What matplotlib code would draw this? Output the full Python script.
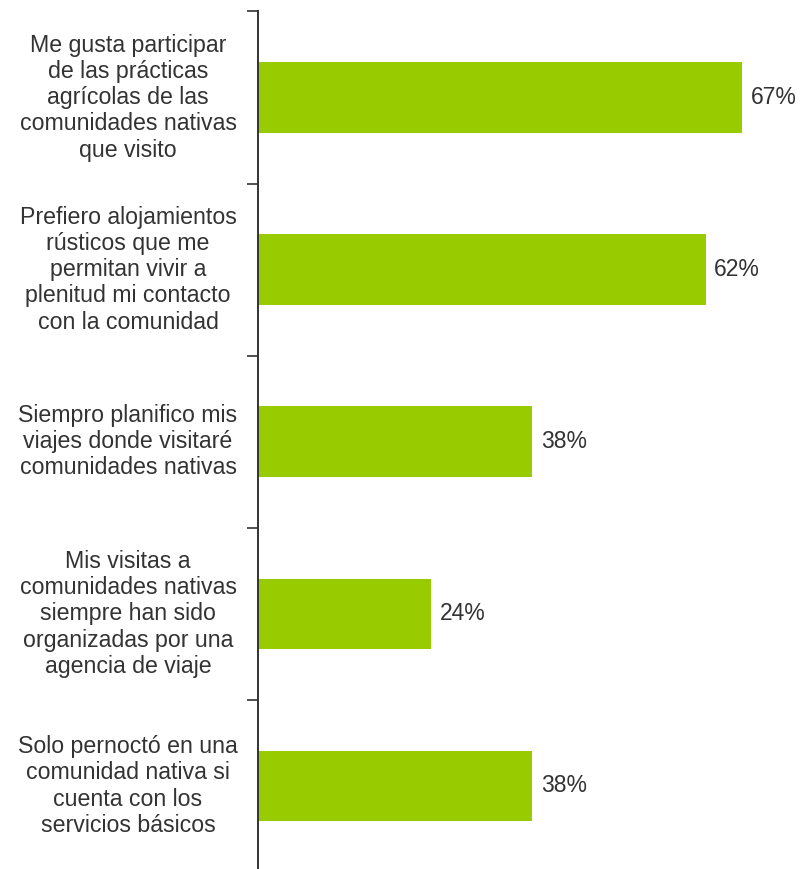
import matplotlib.pyplot as plt

plt.rcParams['font.family'] = ['Liberation Sans', 'DejaVu Sans']

categories = [
    'Me gusta participar\nde las prácticas\nagrícolas de las\ncomunidades nativas\nque visito',
    'Prefiero alojamientos\nrústicos que me\npermitan vivir a\nplenitud mi contacto\ncon la comunidad',
    'Siempro planifico mis\nviajes donde visitaré\ncomunidades nativas',
    'Mis visitas a\ncomunidades nativas\nsiempre han sido\norganizadas por una\nagencia de viaje',
    'Solo pernoctó en una\ncomunidad nativa si\ncuenta con los\nservicios básicos',
]
values = [67, 62, 38, 24, 38]

W, H = 802, 869
fig = plt.figure(figsize=(W / 100, H / 100), dpi=100)
ax = fig.add_axes([258 / W, (H - 872) / H, 1 - 258 / W, 860.5 / H])

pos = list(range(len(values)))
ax.barh(pos, values, height=0.41, color='#99cc00')
ax.set_ylim(len(values) - 0.5, -0.5)
ax.set_xlim(0, 544 / 7.22)

for p, v in zip(pos, values):
    ax.text(v + 1.2, p, f'{v}%', va='center', ha='left', fontsize=16.5, color='#333333')

# labels sit left of the axis, centred
ax.set_yticks([p - 0.5 for p in pos])
ax.set_yticklabels([])
ax.tick_params(axis='y', length=8, width=1.2, color='#333333')
for p, c in zip(pos, categories):
    ax.text(-130 / 7.22, p, c, ha='center', va='center', fontsize=16.7,
            color='#333333', linespacing=1.18, clip_on=False)

ax.set_xticks([])
for s in ['top', 'right', 'bottom']:
    ax.spines[s].set_visible(False)
ax.spines['left'].set_linewidth(1.4)
ax.spines['left'].set_color('#333333')

fig.savefig('out.png', dpi=100)
